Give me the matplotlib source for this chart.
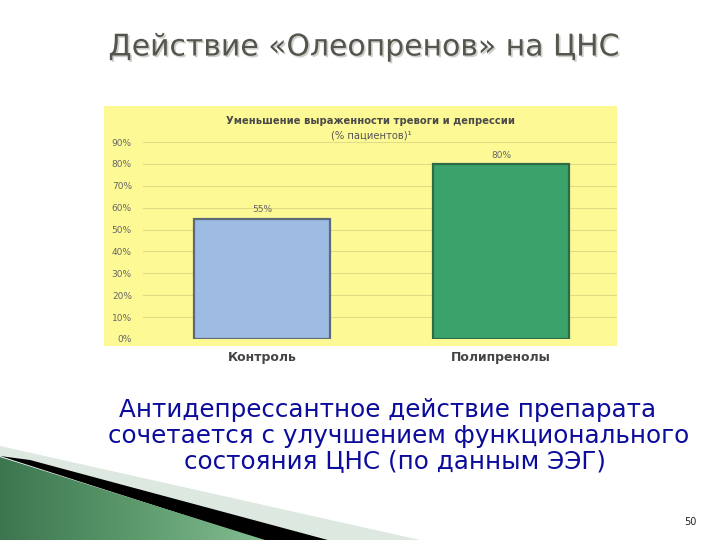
import matplotlib
matplotlib.use("Agg")
import matplotlib.pyplot as plt
import numpy as np
from matplotlib.patches import Rectangle, Polygon
from matplotlib import patheffects as pe

# data
categories = ["Контроль", "Полипренолы"]
values = [55, 80]
yticks = [0, 10, 20, 30, 40, 50, 60, 70, 80, 90]
bar_colors = ["#9dbbe3", "#3aa36b"]
bar_edges = ["#5d6b78", "#2c6b45"]

slide_title = "Действие «Олеопренов» на ЦНС"
chart_title = "Уменьшение выраженности тревоги и депрессии"
chart_sub = "(% пациентов)¹"
body_lines = [
    ("Антидепрессантное действие препарата", 119, 410),
    ("сочетается с улучшением функционального", 108, 436),
    ("состояния ЦНС (по данным ЭЭГ)", 184, 461),
]

plt.rcParams["font.family"] = ["DejaVu Sans"]

fig = plt.figure(figsize=(7.2, 5.4), dpi=100)
fig.patch.set_facecolor("white")

# background axes in pixel coords (y down)
bg = fig.add_axes([0, 0, 1, 1])
bg.set_xlim(0, 720)
bg.set_ylim(540, 0)
bg.axis("off")

# yellow chart panel
bg.add_patch(Rectangle((104, 106), 513, 240, facecolor="#fdfa96", edgecolor="none"))

# decorative corner
bg.add_patch(Polygon([(0, 446), (0, 456), (330, 540), (420, 540)],
                     closed=True, facecolor="#dde8e1", edgecolor="none"))
bg.add_patch(Polygon([(30, 460), (0, 456), (262, 540), (328, 540)],
                     closed=True, facecolor="black", edgecolor="none"))
grad = np.linspace(0, 1, 256)[None, :]
im = bg.imshow(grad, cmap=matplotlib.colors.LinearSegmentedColormap.from_list(
    "g", ["#3c7650", "#5c9a6c", "#85bf95"]), extent=(0, 270, 540, 455),
    aspect="auto", zorder=1)
clip = Polygon([(0, 457), (0, 540), (265, 540)], closed=True,
               facecolor="none", edgecolor="none", transform=bg.transData)
bg.add_patch(clip)
im.set_clip_path(clip)

# slide title
bg.text(364, 47, slide_title, ha="center", va="center", fontsize=21.5,
        color="#55554d",
        path_effects=[pe.withSimplePatchShadow(offset=(1.2, -1.2), shadow_rgbFace="#b0b0a8", alpha=0.6)])

# chart titles
bg.text(371, 121, chart_title, ha="center", va="center", fontsize=7.2,
        fontweight="bold", color="#4a4a4a")
bg.text(371, 136, chart_sub, ha="center", va="center", fontsize=7.2,
        color="#555555")

# body text
for txt, x, y in body_lines:
    bg.text(x, y, txt, ha="left", va="center", fontsize=17.7, color="#0c0c9c")

bg.text(690, 522, "50", ha="center", va="center", fontsize=7, color="#222222")

# chart axes
ax = fig.add_axes([143 / 720, (540 - 339) / 540, (617 - 143) / 720, (339 - 142) / 540])
ax.patch.set_alpha(0)
x = np.arange(len(categories))
bars = ax.bar(x, values, width=0.57, color=bar_colors, edgecolor=bar_edges,
              linewidth=1.6, zorder=3)
ax.bar_label(bars, labels=[f"{v}%" for v in values], padding=3, fontsize=6.5,
             color="#666666")
ax.set_xlim(-0.5, 1.485)
ax.set_ylim(0, 90)
ax.set_yticks(yticks)
ax.set_yticklabels([f"{t}%" for t in yticks], fontsize=6.5, color="#666666")
ax.set_xticks(x)
ax.set_xticklabels(categories, fontsize=9, fontweight="bold", color="#454545")
ax.tick_params(axis="both", length=0)
ax.tick_params(axis="y", pad=8)
ax.tick_params(axis="x", pad=9)
ax.grid(axis="y", color="#e0db86", linewidth=0.8, zorder=0)
for s in ax.spines.values():
    s.set_visible(False)

fig.savefig("out.png", dpi=100)
